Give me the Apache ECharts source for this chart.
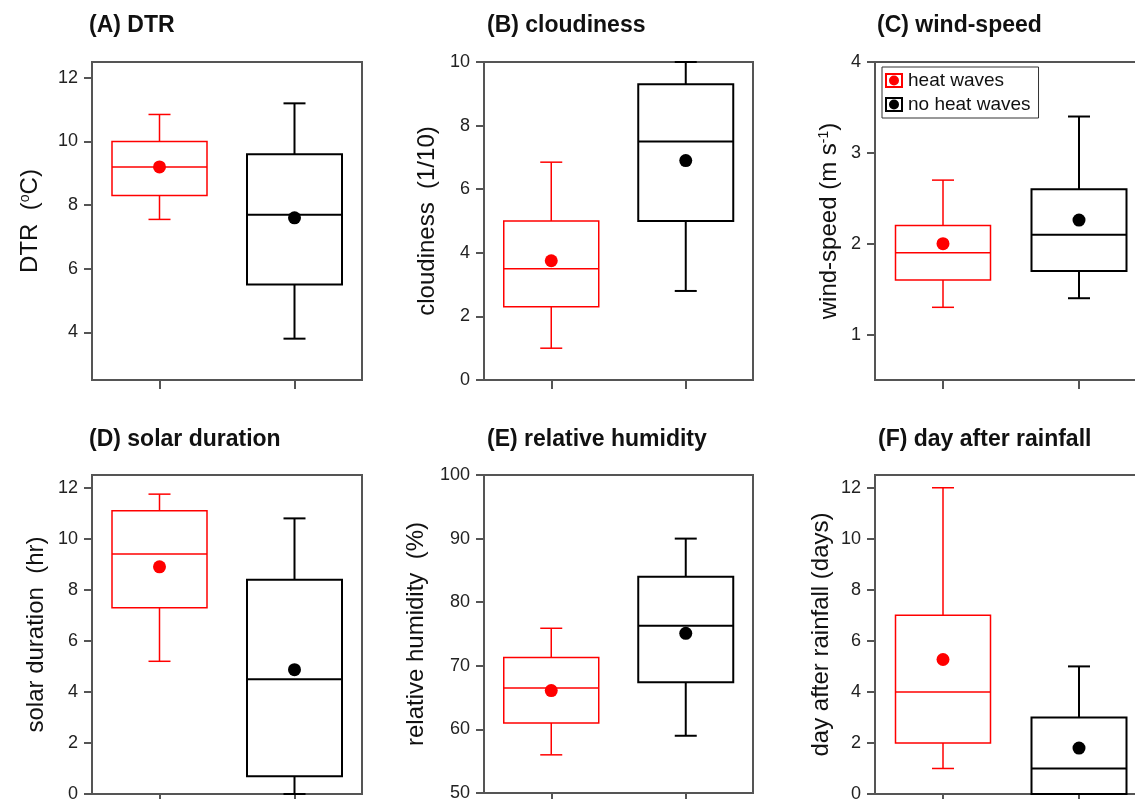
<!DOCTYPE html>
<html>
<head>
<meta charset="utf-8">
<script src="https://cdn.jsdelivr.net/npm/echarts@6/dist/echarts.min.js"></script>
<style>
html,body{margin:0;padding:0;background:#fff;}
#chart{width:1135px;height:799px;}
</style>
</head>
<body>
<div id="chart"></div>
<script>
// ---- data ----
const categories = ['heat waves', 'no heat waves'];
const titles = ['(A) DTR', '(B) cloudiness', '(C) wind-speed', '(D) solar duration', '(E) relative humidity', '(F) day after rainfall'];
const yNames = ['DTR  ({sup|o}C)', 'cloudiness  (1/10)', 'wind-speed (m s{sup|-1})', 'solar duration  (hr)', 'relative humidity  (%)', 'day after rainfall (days)'];

// box stats: [lower whisker, Q1, median, Q3, upper whisker]
const dtrHeat = [7.55, 8.3, 9.2, 10.0, 10.85];
const dtrNoHeat = [3.8, 5.5, 7.7, 9.6, 11.2];
const dtrMean = [9.2, 7.6];
const dtrTicks = [4, 6, 8, 10, 12];

const cloudHeat = [1.0, 2.3, 3.5, 5.0, 6.85];
const cloudNoHeat = [2.8, 5.0, 7.5, 9.3, 10.0];
const cloudMean = [3.75, 6.9];
const cloudTicks = [0, 2, 4, 6, 8, 10];

const windHeat = [1.3, 1.6, 1.9, 2.2, 2.7];
const windNoHeat = [1.4, 1.7, 2.1, 2.6, 3.4];
const windMean = [2.0, 2.26];
const windTicks = [1, 2, 3, 4];

const solarHeat = [5.2, 7.3, 9.4, 11.1, 11.75];
const solarNoHeat = [0, 0.7, 4.5, 8.4, 10.8];
const solarMean = [8.9, 4.87];
const solarTicks = [0, 2, 4, 6, 8, 10, 12];

const rhHeat = [56, 61, 66.5, 71.3, 75.9];
const rhNoHeat = [59, 67.4, 76.3, 84, 90];
const rhMean = [66.1, 75.1];
const rhTicks = [50, 60, 70, 80, 90, 100];

const rainHeat = [1, 2, 4, 7, 12];
const rainNoHeat = [0, 0, 1, 3, 5];
const rainMean = [5.27, 1.8];
const rainTicks = [0, 2, 4, 6, 8, 10, 12];

// ---- layout / styling ----
const FONT = "'Liberation Sans', Arial, sans-serif";
const RED = '#ff0000', BLACK = '#000000', FRAME = '#555555';

const panels = [
  {heat: dtrHeat, no: dtrNoHeat, mean: dtrMean, ticks: dtrTicks, min: 2.5, max: 12.5, grid: {left: 92, top: 62, width: 270, height: 318}, title: [89, 14], gap: 50},
  {heat: cloudHeat, no: cloudNoHeat, mean: cloudMean, ticks: cloudTicks, min: 0, max: 10, grid: {left: 484, top: 62, width: 269, height: 318}, title: [487, 14], gap: 45},
  {heat: windHeat, no: windNoHeat, mean: windMean, ticks: windTicks, min: 0.5, max: 4, grid: {left: 875, top: 62, width: 272, height: 318}, title: [877, 14], gap: 34},
  {heat: solarHeat, no: solarNoHeat, mean: solarMean, ticks: solarTicks, min: 0, max: 12.5, grid: {left: 92, top: 475, width: 270, height: 319}, title: [89, 428], gap: 44},
  {heat: rhHeat, no: rhNoHeat, mean: rhMean, ticks: rhTicks, min: 50, max: 100, grid: {left: 484, top: 475, width: 269, height: 318}, title: [487, 428], gap: 56},
  {heat: rainHeat, no: rainNoHeat, mean: rainMean, ticks: rainTicks, min: 0, max: 12.5, grid: {left: 875, top: 475, width: 272, height: 319}, title: [878, 428], gap: 42}
];

function boxRenderer(color, lw) {
  return function (params, api) {
    const x = api.value(0);
    const p = [1, 2, 3, 4, 5].map(function (i) { return api.coord([x, api.value(i)]); });
    const cx = p[0][0];
    const half = 47.5, cap = 11;
    const style = {stroke: color, lineWidth: lw, fill: 'none'};
    function line(x1, y1, x2, y2) { return {type: 'line', shape: {x1: x1, y1: y1, x2: x2, y2: y2}, style: style}; }
    return {type: 'group', children: [
      {type: 'rect', shape: {x: cx - half, y: p[3][1], width: 2 * half, height: p[1][1] - p[3][1]}, style: style},
      line(cx - half, p[2][1], cx + half, p[2][1]),
      line(cx, p[3][1], cx, p[4][1]),
      line(cx, p[1][1], cx, p[0][1]),
      line(cx - cap, p[4][1], cx + cap, p[4][1]),
      line(cx - cap, p[0][1], cx + cap, p[0][1])
    ]};
  };
}

const grid = [], xAxis = [], yAxis = [], series = [], title = [];
panels.forEach(function (pn, i) {
  grid.push(Object.assign({show: true, borderColor: FRAME, borderWidth: 2, containLabel: false, outerBoundsMode: 'none'}, pn.grid));
  title.push({text: titles[i], left: pn.title[0], top: pn.title[1], padding: 0,
    textStyle: {fontFamily: FONT, fontSize: 23, fontWeight: 'bold', color: '#111'}});
  xAxis.push({type: 'category', gridIndex: i, data: categories, boundaryGap: true,
    axisLine: {show: false}, axisLabel: {show: false}, splitLine: {show: false},
    axisTick: {show: true, alignWithLabel: true, length: 9, lineStyle: {color: FRAME, width: 2}}});
  yAxis.push({type: 'value', gridIndex: i, min: pn.min, max: pn.max,
    name: yNames[i], nameLocation: 'middle', nameGap: pn.gap,
    nameTextStyle: {fontFamily: FONT, fontSize: 24, color: '#111',
      rich: {sup: {fontFamily: FONT, fontSize: 14, color: '#111', verticalAlign: 'top', lineHeight: 14}}},
    axisLine: {show: false}, splitLine: {show: false},
    axisTick: {show: true, length: 8, customValues: pn.ticks, lineStyle: {color: FRAME, width: 2}},
    axisLabel: {show: true, margin: 14, customValues: pn.ticks, fontFamily: FONT, fontSize: 18, color: '#222'}});
  series.push({type: 'scatter', name: categories[0], xAxisIndex: i, yAxisIndex: i, data: [[0, pn.mean[0]]],
    symbolSize: 13, itemStyle: {color: RED, opacity: 1}, z: 5, silent: true});
  series.push({type: 'scatter', name: categories[1], xAxisIndex: i, yAxisIndex: i, data: [[1, pn.mean[1]]],
    symbolSize: 13, itemStyle: {color: BLACK, opacity: 1}, z: 5, silent: true});
  series.push({type: 'custom', name: categories[0], xAxisIndex: i, yAxisIndex: i,
    data: [[0].concat(pn.heat)], renderItem: boxRenderer(RED, 1.5), itemStyle: {color: RED}, z: 3, silent: true});
  series.push({type: 'custom', name: categories[1], xAxisIndex: i, yAxisIndex: i,
    data: [[1].concat(pn.no)], renderItem: boxRenderer(BLACK, 2), itemStyle: {color: BLACK}, z: 3, silent: true});
});

const chart = echarts.init(document.getElementById('chart'), null, {renderer: 'canvas'});
chart.setOption({
  backgroundColor: '#ffffff',
  animation: false,
  title: title,
  legend: {
    data: categories, left: 882, top: 67, orient: 'vertical',
    borderColor: '#333', borderWidth: 1, padding: [4, 8, 4, 3], itemGap: 5,
    itemWidth: 18, itemHeight: 15, selectedMode: false,
    icon: 'path://M0 0H18V15H0Z M2 2V13H16V2Z M4 7.5A5 5 0 1 0 14 7.5A5 5 0 1 0 4 7.5Z',
    itemStyle: {borderWidth: 0, opacity: 1},
    textStyle: {fontFamily: FONT, fontSize: 19, color: '#111', padding: [0, 0, 0, 0]}
  },
  grid: grid, xAxis: xAxis, yAxis: yAxis, series: series
});
</script>
</body>
</html>
